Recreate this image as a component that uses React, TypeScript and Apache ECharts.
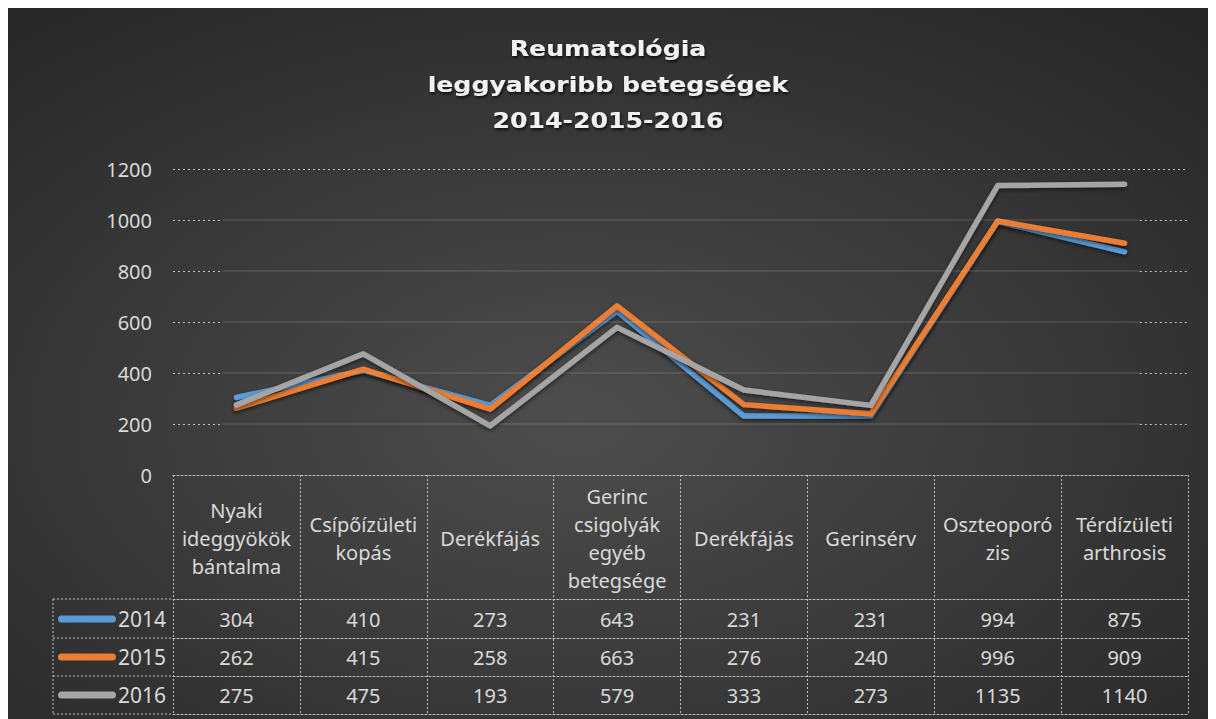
import React, { useEffect, useRef } from "react";
import * as echarts from "echarts";

const titleLines = ["Reumatológia", "leggyakoribb betegségek", "2014-2015-2016"];
const categories = [
  "Nyaki\nideggyökök\nbántalma",
  "Csípőízületi\nkopás",
  "Derékfájás",
  "Gerinc\ncsigolyák\negyéb\nbetegsége",
  "Derékfájás",
  "Gerinsérv",
  "Oszteoporó\nzis",
  "Térdízületi\narthrosis",
];
const seriesNames = ["2014", "2015", "2016"];
const values2014 = [304, 410, 273, 643, 231, 231, 994, 875];
const values2015 = [262, 415, 258, 663, 276, 240, 996, 909];
const values2016 = [275, 475, 193, 579, 333, 273, 1135, 1140];
const seriesColors = ["#5B9BD5", "#ED7D31", "#A5A5A5"];
const yTicks = [0, 200, 400, 600, 800, 1000, 1200];

const TEXT = "#d9d9d9";
const BORDER = "#bfbfbf";
const FONT = "'Noto Sans', sans-serif";
const FS = 20;

export default function App() {
  const ref = useRef<HTMLDivElement>(null);
  useEffect(() => {
    if (!ref.current) return;
    const chart = echarts.init(ref.current, null, { renderer: "svg" });
    const allValues = [values2014, values2015, values2016];

    const gridLineData: any[] = [];
    yTicks.forEach((v) => {
      if (v === 0) return;
      if (v === 1200) {
        gridLineData.push([
          { coord: [0, v], lineStyle: { type: [2, 3], color: BORDER, width: 1 } },
          { coord: [8, v] },
        ]);
      } else {
        gridLineData.push([
          { coord: [0, v], lineStyle: { type: [2, 3], color: BORDER, width: 1 } },
          { coord: [0.38, v] },
        ]);
        gridLineData.push([
          { coord: [0.39, v], lineStyle: { type: "solid", color: "rgba(255,255,255,0.13)", width: 1.5 } },
          { coord: [7.62, v] },
        ]);
        gridLineData.push([
          { coord: [7.62, v], lineStyle: { type: [2, 3], color: BORDER, width: 1 } },
          { coord: [8, v] },
        ]);
      }
    });

    const rowAxis = (data: any[], offset: number, margin: number, showLabel: boolean) => ({
      type: "category",
      gridIndex: 0,
      position: "bottom",
      offset,
      data,
      boundaryGap: true,
      axisLine: { show: true, lineStyle: { color: BORDER, type: [2, 2], width: 1 } },
      axisTick: { show: false },
      splitLine: { show: false },
      axisLabel: {
        show: showLabel,
        interval: 0,
        margin,
        verticalAlign: "middle",
        color: TEXT,
        fontSize: FS,
        fontFamily: FONT,
      },
    });

    const option: any = {
      animation: false,
      backgroundColor: new echarts.graphic.RadialGradient(0.47, 0.58, 0.75, [
        { offset: 0, color: "#4d4d4d" },
        { offset: 1, color: "#262626" },
      ]),
      grid: { left: 165, right: 28, top: 161, bottom: 244, containLabel: false },
      legend: {
        orient: "vertical",
        left: 50,
        top: 598,
        height: 110,
        padding: 0,
        itemGap: 12,
        itemWidth: 58,
        itemHeight: 7,
        icon: "path://M3.5,0 H54.5 A3.5,3.5 0 0 1 54.5,7 H3.5 A3.5,3.5 0 0 1 3.5,0 Z",
        textStyle: { color: TEXT, fontSize: 21, fontFamily: FONT, lineHeight: 20, padding: [0, 0, 6, -3] },
        data: seriesNames,
      },
      xAxis: [
        {
          type: "category",
          data: categories,
          boundaryGap: true,
          axisLine: { show: true, lineStyle: { color: BORDER, type: [2, 2], width: 1 } },
          axisTick: {
            show: true,
            alignWithLabel: false,
            inside: false,
            length: 239,
            lineStyle: { color: BORDER, type: [2, 2], width: 1 },
          },
          splitLine: { show: false },
          axisLabel: {
            interval: 0,
            margin: 63,
            verticalAlign: "middle",
            lineHeight: 28,
            color: TEXT,
            fontSize: FS,
            fontFamily: FONT,
          },
        },
        rowAxis(values2014.map(String), 124, 20, true),
        rowAxis(values2015.map(String), 163, 19, true),
        rowAxis(values2016.map(String), 201, 19, true),
        rowAxis(values2016.map(() => ""), 239, 0, false),
        { type: "value", min: 0, max: 8, show: false, gridIndex: 0 },
      ],
      yAxis: {
        type: "value",
        min: 0,
        max: 1200,
        interval: 200,
        axisLine: { show: false },
        axisTick: { show: false },
        splitLine: { show: false },
        axisLabel: {
          color: TEXT,
          fontSize: FS,
          fontFamily: FONT,
          margin: 21,
          formatter: (v: number) => String(v),
        },
      },
      series: [
        {
          type: "line",
          xAxisIndex: 5,
          data: [],
          silent: true,
          markLine: {
            silent: true,
            symbol: "none",
            label: { show: false },
            emphasis: { disabled: true },
            data: gridLineData,
          },
        },
        ...seriesNames.map((name, i) => ({
          name,
          type: "line",
          xAxisIndex: 0,
          data: allValues[i],
          color: seriesColors[i],
          symbol: "none",
          lineStyle: {
            color: seriesColors[i],
            width: 5.5,
            cap: "round",
            join: "round",
            shadowColor: "rgba(0,0,0,0.55)",
            shadowBlur: 4,
            shadowOffsetY: 2,
          },
          z: 3 + i,
        })),
      ],
      graphic: [
        ...titleLines.map((t, i) => ({
          type: "text",
          x: 600,
          y: 40 + i * 36,
          scaleX: 1.2,
          silent: true,
          style: {
            text: t,
            fill: "#f2f2f2",
            font: "bold 21px 'DejaVu Sans', sans-serif",
            align: "center",
            verticalAlign: "middle",
            textShadowColor: "rgba(0,0,0,0.75)",
            textShadowBlur: 3,
            textShadowOffsetX: 1,
            textShadowOffsetY: 2,
          },
        })),
        {
          type: "line",
          silent: true,
          shape: { x1: 45, y1: 591, x2: 45, y2: 706 },
          style: { stroke: BORDER, lineWidth: 1, lineDash: [2, 2] },
        },
        ...[591, 630, 668, 706].map((y) => ({
          type: "line",
          silent: true,
          shape: { x1: 45, y1: y, x2: 165, y2: y },
          style: { stroke: BORDER, lineWidth: 1, lineDash: [2, 2] },
        })),
      ],
    };
    chart.setOption(option);
    return () => chart.dispose();
  }, []);
  return <div ref={ref} style={{ width: 1208, height: 711 }} />;
}
